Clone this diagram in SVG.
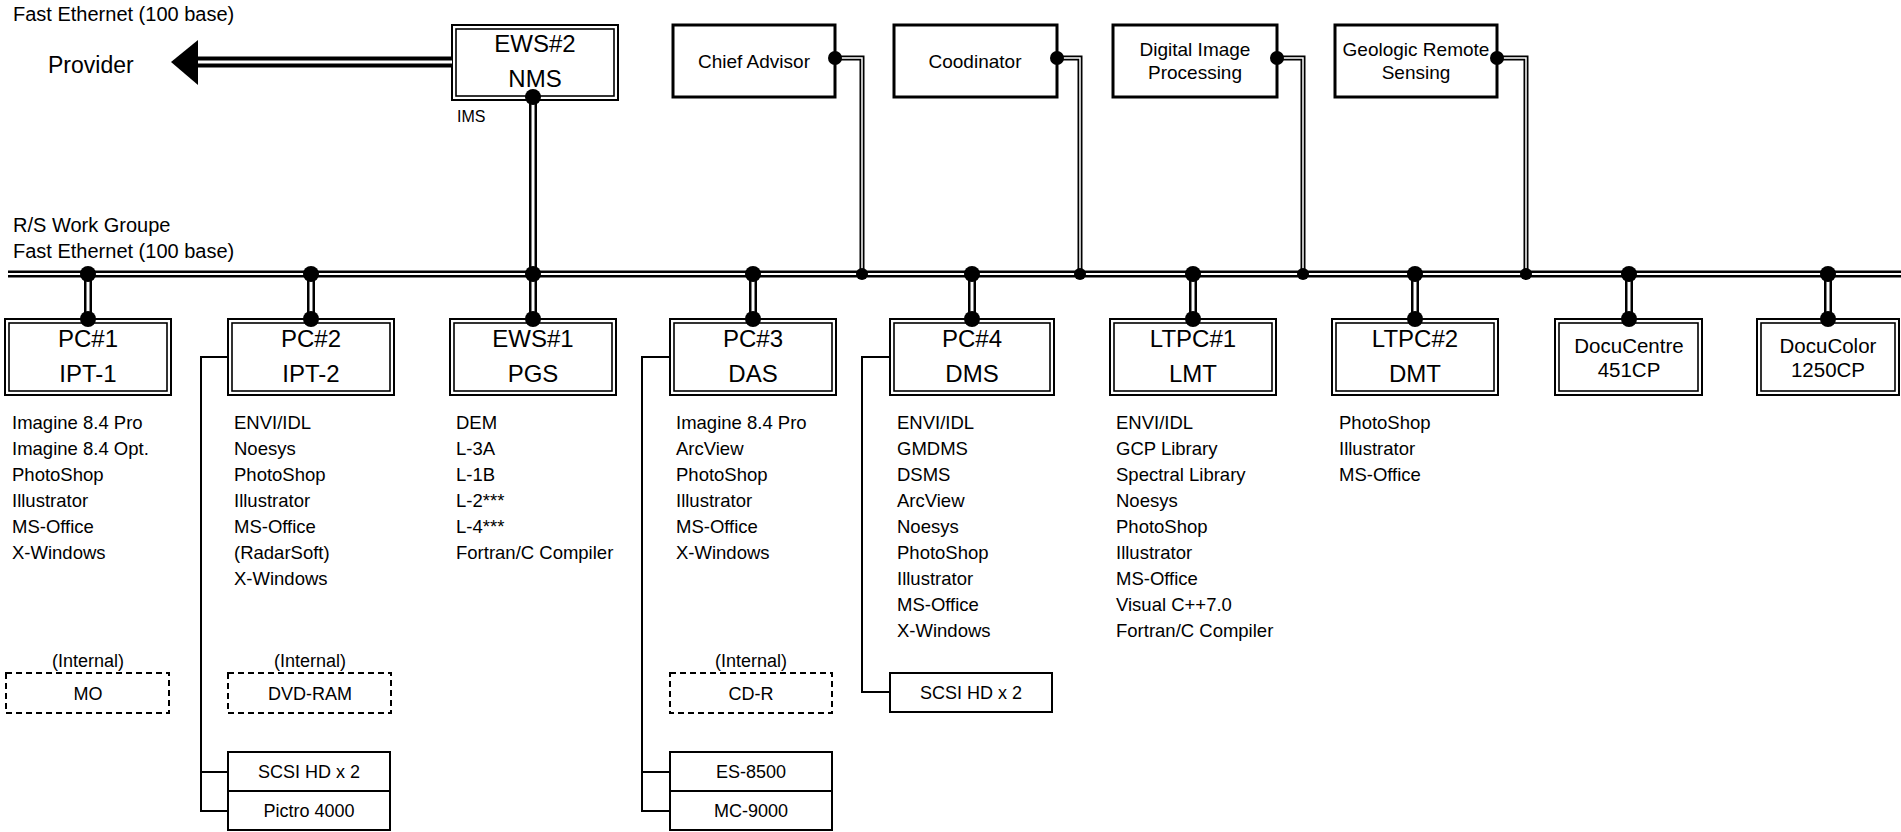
<svg xmlns="http://www.w3.org/2000/svg" width="1901" height="832" viewBox="0 0 1901 832">
  <style>
    text { font-family: "Liberation Sans", Arial, sans-serif; fill: #000; }
    .lbl { font-size: 20px; }
    .prov { font-size: 23px; }
    .ims { font-size: 16px; }
    .title { font-size: 24px; text-anchor: middle; }
    .doc { font-size: 20.5px; text-anchor: middle; }
    .auxt { font-size: 19px; text-anchor: middle; }
    .sw { font-size: 18.5px; }
    .sm { font-size: 18px; text-anchor: middle; }
    .outer { fill: #fff; stroke: #000; stroke-width: 2; }
    .inner { fill: none; stroke: #000; stroke-width: 1.6; }
    .aux { fill: #fff; stroke: #000; stroke-width: 3; }
    .solid { fill: #fff; stroke: #000; stroke-width: 2; }
    .dash { fill: #fff; stroke: #000; stroke-width: 2; stroke-dasharray: 6 4; }
    .bk { fill: none; stroke: #000; }
    .wt { fill: none; stroke: #fff; }
    .thin { fill: none; stroke: #000; stroke-width: 2; }
    .dot { fill: #000; }
  </style>

  <!-- free labels -->
  <g id="labels">
    <text class="lbl" x="13" y="21">Fast Ethernet (100 base)</text>
    <text class="prov" x="48" y="73">Provider</text>
    <text class="lbl" x="13" y="232">R/S Work Groupe</text>
    <text class="lbl" x="13" y="258">Fast Ethernet (100 base)</text>
    <text class="ims" x="457" y="122">IMS</text>
  </g>

  <!-- network management server -->
  <g id="ews2">
    <rect class="outer" x="452" y="25" width="166" height="75"/>
    <rect class="inner" x="456" y="29" width="158" height="67"/>
    <text class="title" x="535" y="52">EWS#2</text>
    <text class="title" x="535" y="87">NMS</text>
  </g>

  <!-- staff terminals on the upper row -->
  <g id="chief-advisor">
    <rect class="aux" x="673" y="25" width="162" height="72"/>
    <text class="auxt" x="754" y="68">Chief Advisor</text>
  </g>
  <g id="coodinator">
    <rect class="aux" x="894" y="25" width="163" height="72"/>
    <text class="auxt" x="975" y="68">Coodinator</text>
  </g>
  <g id="digital-image-processing">
    <rect class="aux" x="1113" y="25" width="164" height="72"/>
    <text class="auxt" x="1195" y="56">Digital Image</text>
    <text class="auxt" x="1195" y="79">Processing</text>
  </g>
  <g id="geologic-remote-sensing">
    <rect class="aux" x="1335" y="25" width="162" height="72"/>
    <text class="auxt" x="1416" y="56">Geologic Remote</text>
    <text class="auxt" x="1416" y="79">Sensing</text>
  </g>

  <!-- workstations on the work-group bus -->
  <g id="pc1">
    <rect class="outer" x="5" y="319" width="166" height="76"/>
    <rect class="inner" x="9" y="323" width="158" height="68"/>
    <text class="title" x="88" y="347">PC#1</text>
    <text class="title" x="88" y="382">IPT-1</text>
    <text class="sw" x="12" y="429">Imagine 8.4 Pro</text>
    <text class="sw" x="12" y="455">Imagine 8.4 Opt.</text>
    <text class="sw" x="12" y="481">PhotoShop</text>
    <text class="sw" x="12" y="507">Illustrator</text>
    <text class="sw" x="12" y="533">MS-Office</text>
    <text class="sw" x="12" y="559">X-Windows</text>
    <text class="sm" x="88" y="667">(Internal)</text>
    <rect class="dash" x="6" y="673" width="163" height="40"/>
    <text class="sm" x="88" y="700">MO</text>
  </g>

  <g id="pc2">
    <rect class="outer" x="228" y="319" width="166" height="76"/>
    <rect class="inner" x="232" y="323" width="158" height="68"/>
    <text class="title" x="311" y="347">PC#2</text>
    <text class="title" x="311" y="382">IPT-2</text>
    <text class="sw" x="234" y="429">ENVI/IDL</text>
    <text class="sw" x="234" y="455">Noesys</text>
    <text class="sw" x="234" y="481">PhotoShop</text>
    <text class="sw" x="234" y="507">Illustrator</text>
    <text class="sw" x="234" y="533">MS-Office</text>
    <text class="sw" x="234" y="559">(RadarSoft)</text>
    <text class="sw" x="234" y="585">X-Windows</text>
    <text class="sm" x="310" y="667">(Internal)</text>
    <rect class="dash" x="228" y="673" width="163" height="40"/>
    <text class="sm" x="310" y="700">DVD-RAM</text>
    <rect class="solid" x="228" y="752" width="162" height="39"/>
    <text class="sm" x="309" y="778">SCSI HD x 2</text>
    <rect class="solid" x="228" y="791" width="162" height="39"/>
    <text class="sm" x="309" y="817">Pictro 4000</text>
  </g>

  <g id="ews1">
    <rect class="outer" x="450" y="319" width="166" height="76"/>
    <rect class="inner" x="454" y="323" width="158" height="68"/>
    <text class="title" x="533" y="347">EWS#1</text>
    <text class="title" x="533" y="382">PGS</text>
    <text class="sw" x="456" y="429">DEM</text>
    <text class="sw" x="456" y="455">L-3A</text>
    <text class="sw" x="456" y="481">L-1B</text>
    <text class="sw" x="456" y="507">L-2***</text>
    <text class="sw" x="456" y="533">L-4***</text>
    <text class="sw" x="456" y="559">Fortran/C Compiler</text>
  </g>

  <g id="pc3">
    <rect class="outer" x="670" y="319" width="166" height="76"/>
    <rect class="inner" x="674" y="323" width="158" height="68"/>
    <text class="title" x="753" y="347">PC#3</text>
    <text class="title" x="753" y="382">DAS</text>
    <text class="sw" x="676" y="429">Imagine 8.4 Pro</text>
    <text class="sw" x="676" y="455">ArcView</text>
    <text class="sw" x="676" y="481">PhotoShop</text>
    <text class="sw" x="676" y="507">Illustrator</text>
    <text class="sw" x="676" y="533">MS-Office</text>
    <text class="sw" x="676" y="559">X-Windows</text>
    <text class="sm" x="751" y="667">(Internal)</text>
    <rect class="dash" x="670" y="673" width="162" height="40"/>
    <text class="sm" x="751" y="700">CD-R</text>
    <rect class="solid" x="670" y="752" width="162" height="39"/>
    <text class="sm" x="751" y="778">ES-8500</text>
    <rect class="solid" x="670" y="791" width="162" height="39"/>
    <text class="sm" x="751" y="817">MC-9000</text>
  </g>

  <g id="pc4">
    <rect class="outer" x="890" y="319" width="164" height="76"/>
    <rect class="inner" x="894" y="323" width="156" height="68"/>
    <text class="title" x="972" y="347">PC#4</text>
    <text class="title" x="972" y="382">DMS</text>
    <text class="sw" x="897" y="429">ENVI/IDL</text>
    <text class="sw" x="897" y="455">GMDMS</text>
    <text class="sw" x="897" y="481">DSMS</text>
    <text class="sw" x="897" y="507">ArcView</text>
    <text class="sw" x="897" y="533">Noesys</text>
    <text class="sw" x="897" y="559">PhotoShop</text>
    <text class="sw" x="897" y="585">Illustrator</text>
    <text class="sw" x="897" y="611">MS-Office</text>
    <text class="sw" x="897" y="637">X-Windows</text>
    <rect class="solid" x="890" y="673" width="162" height="39"/>
    <text class="sm" x="971" y="699">SCSI HD x 2</text>
  </g>

  <g id="ltpc1">
    <rect class="outer" x="1110" y="319" width="166" height="76"/>
    <rect class="inner" x="1114" y="323" width="158" height="68"/>
    <text class="title" x="1193" y="347">LTPC#1</text>
    <text class="title" x="1193" y="382">LMT</text>
    <text class="sw" x="1116" y="429">ENVI/IDL</text>
    <text class="sw" x="1116" y="455">GCP Library</text>
    <text class="sw" x="1116" y="481">Spectral Library</text>
    <text class="sw" x="1116" y="507">Noesys</text>
    <text class="sw" x="1116" y="533">PhotoShop</text>
    <text class="sw" x="1116" y="559">Illustrator</text>
    <text class="sw" x="1116" y="585">MS-Office</text>
    <text class="sw" x="1116" y="611">Visual C++7.0</text>
    <text class="sw" x="1116" y="637">Fortran/C Compiler</text>
  </g>

  <g id="ltpc2">
    <rect class="outer" x="1332" y="319" width="166" height="76"/>
    <rect class="inner" x="1336" y="323" width="158" height="68"/>
    <text class="title" x="1415" y="347">LTPC#2</text>
    <text class="title" x="1415" y="382">DMT</text>
    <text class="sw" x="1339" y="429">PhotoShop</text>
    <text class="sw" x="1339" y="455">Illustrator</text>
    <text class="sw" x="1339" y="481">MS-Office</text>
  </g>

  <!-- printers -->
  <g id="docucentre">
    <rect class="outer" x="1555" y="319" width="147" height="76"/>
    <rect class="inner" x="1559" y="323" width="139" height="68"/>
    <text class="doc" x="1629" y="353">DocuCentre</text>
    <text class="doc" x="1629" y="377">451CP</text>
  </g>
  <g id="docucolor">
    <rect class="outer" x="1757" y="319" width="142" height="76"/>
    <rect class="inner" x="1761" y="323" width="134" height="68"/>
    <text class="doc" x="1828" y="353">DocuColor</text>
    <text class="doc" x="1828" y="377">1250CP</text>
  </g>

  <!-- cabling -->
  <g id="connectors">
    <!-- uplink to provider -->
    <path class="bk" stroke-width="11" d="M196 62 H452"/>
    <path class="wt" stroke-width="3" d="M198 62 H452"/>
    <polygon points="171,62 198,40 198,85" fill="#000"/>

    <!-- work-group backbone -->
    <path class="bk" stroke-width="7" d="M8 274 H1901"/>
    <path class="wt" stroke-width="2" d="M8 274 H1901"/>

    <!-- NMS to backbone and node drops -->
    <path class="bk" stroke-width="8" d="M533 97 V274 M88 274 V319 M311 274 V319 M533 274 V319 M753 274 V319 M972 274 V319 M1193 274 V319 M1415 274 V319 M1629 274 V319 M1828 274 V319"/>
    <path class="wt" stroke-width="3" d="M533 97 V274 M88 274 V319 M311 274 V319 M533 274 V319 M753 274 V319 M972 274 V319 M1193 274 V319 M1415 274 V319 M1629 274 V319 M1828 274 V319"/>

    <!-- staff terminal links -->
    <path class="bk" stroke-width="5" d="M835 58 H862 V274 M1057 58 H1080 V274 M1277 58 H1303 V274 M1497 58 H1526 V274"/>
    <path class="wt" stroke-width="1.5" d="M835 58 H862 V274 M1057 58 H1080 V274 M1277 58 H1303 V274 M1497 58 H1526 V274"/>

    <!-- peripheral links -->
    <path class="thin" d="M228 357 H201 V811 H228 M201 772 H228"/>
    <path class="thin" d="M670 357 H642 V811 H670 M642 772 H670"/>
    <path class="thin" d="M890 357 H862 V692 H890"/>

    <!-- taps -->
    <g class="dot">
      <circle cx="533" cy="97" r="8"/>
      <circle cx="88" cy="274" r="8"/>
      <circle cx="311" cy="274" r="8"/>
      <circle cx="533" cy="274" r="8"/>
      <circle cx="753" cy="274" r="8"/>
      <circle cx="972" cy="274" r="8"/>
      <circle cx="1193" cy="274" r="8"/>
      <circle cx="1415" cy="274" r="8"/>
      <circle cx="1629" cy="274" r="8"/>
      <circle cx="1828" cy="274" r="8"/>
      <circle cx="88" cy="319" r="8"/>
      <circle cx="311" cy="319" r="8"/>
      <circle cx="533" cy="319" r="8"/>
      <circle cx="753" cy="319" r="8"/>
      <circle cx="972" cy="319" r="8"/>
      <circle cx="1193" cy="319" r="8"/>
      <circle cx="1415" cy="319" r="8"/>
      <circle cx="1629" cy="319" r="8"/>
      <circle cx="1828" cy="319" r="8"/>
      <circle cx="835" cy="58" r="7"/>
      <circle cx="1057" cy="58" r="7"/>
      <circle cx="1277" cy="58" r="7"/>
      <circle cx="1497" cy="58" r="7"/>
      <circle cx="862" cy="274" r="6"/>
      <circle cx="1080" cy="274" r="6"/>
      <circle cx="1303" cy="274" r="6"/>
      <circle cx="1526" cy="274" r="6"/>
    </g>
  </g>
</svg>
